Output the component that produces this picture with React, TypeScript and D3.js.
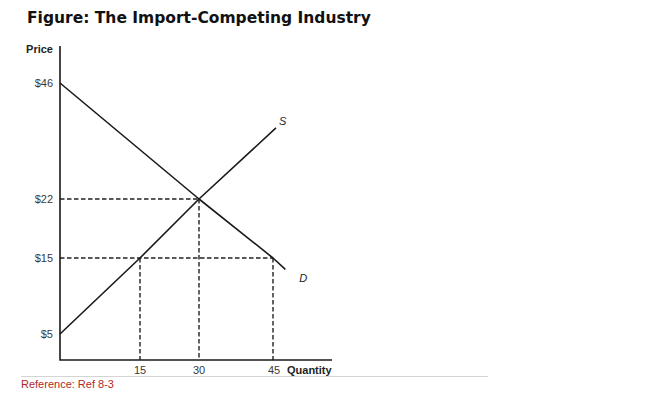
import React from "react";
import * as d3 from "d3";

// Schematic (non-linear) axis anchors
const quantityAnchors = [0, 15, 30, 45];
const priceAnchors = [5, 15, 22, 46];

const xTicks = [15, 30, 45];
const xTickLabels = ["15", "30", "45"];
const yTicks = [46, 22, 15, 5];
const yTickLabels = ["$46", "$22", "$15", "$5"];

// Demand and supply curves (quantity, price)
const demandQ = [0, 30, 45, 47.5];
const demandP = [46, 22, 15, 13.5];
const supplyQ = [0, 15, 30, 45.6];
const supplyP = [5, 15, 22, 36.7];

// Reference (dashed) lines: price levels and quantities
const dashedPrices = [22, 15];
const dashedPriceEndQ = [30, 45];
const dashedQuantities = [15, 30, 45];
const dashedQuantityTopP = [15, 22, 15];

const W = 650;
const H = 394;

export default function App() {
  const x = d3.scaleLinear().domain(quantityAnchors).range([60, 140, 199, 273]);
  const y = d3.scaleLinear().domain(priceAnchors).range([334, 258, 199, 83]);
  const axisLeft = 60;
  const axisBottom = 360;
  const axisTop = 46;
  const axisRight = 332;

  const line = d3
    .line<[number, number]>()
    .x((d) => x(d[0]))
    .y((d) => y(d[1]));

  const demand = demandQ.map((q, i) => [q, demandP[i]] as [number, number]);
  const supply = supplyQ.map((q, i) => [q, supplyP[i]] as [number, number]);

  const textColor = "#3a3a3a";
  const sans = "'Liberation Sans', Arial, Helvetica, sans-serif";

  return (
    <svg
      width={W}
      height={H}
      style={{ position: "absolute", left: 0, top: 0, background: "#fff" }}
    >
      <text
        x={27}
        y={23}
        fontFamily="'DejaVu Sans', Verdana, sans-serif"
        fontWeight="bold"
        fontSize={15.5}
        fill="#111"
      >
        Figure: The Import-Competing Industry
      </text>

      {/* dashed guides */}
      <g stroke="#222" strokeWidth={1.4} strokeDasharray="4.5,2.5" fill="none">
        {dashedPrices.map((p, i) => (
          <line
            key={"h" + i}
            x1={axisLeft}
            x2={x(dashedPriceEndQ[i])}
            y1={y(p)}
            y2={y(p)}
          />
        ))}
        {dashedQuantities.map((q, i) => (
          <line
            key={"v" + i}
            x1={x(q)}
            x2={x(q)}
            y1={y(dashedQuantityTopP[i])}
            y2={axisBottom}
          />
        ))}
      </g>

      {/* curves */}
      <path
        d={line(demand) || ""}
        stroke="#1a1a1a"
        strokeWidth={1.6}
        strokeLinejoin="round"
        fill="none"
      />
      <path
        d={line(supply) || ""}
        stroke="#1a1a1a"
        strokeWidth={1.6}
        strokeLinejoin="round"
        fill="none"
      />

      {/* axes */}
      <path
        d={`M${axisLeft},${axisTop}V${axisBottom}H${axisRight}`}
        stroke="#1a1a1a"
        strokeWidth={1.6}
        fill="none"
      />

      {/* y tick labels */}
      {yTicks.map((p, i) => (
        <text
          key={"yt" + i}
          x={53}
          y={y(p) + 4}
          textAnchor="end"
          fontFamily={sans}
          fontSize={11}
          fill={textColor}
        >
          {yTickLabels[i]}
        </text>
      ))}
      <text
        x={53}
        y={53}
        textAnchor="end"
        fontFamily={sans}
        fontWeight="bold"
        fontSize={11}
        fill="#222"
      >
        Price
      </text>

      {/* x tick labels */}
      {xTicks.map((q, i) => (
        <text
          key={"xt" + i}
          x={x(q) + (i === 2 ? 1 : 0)}
          y={374}
          textAnchor="middle"
          fontFamily={sans}
          fontSize={11}
          fill={textColor}
        >
          {xTickLabels[i]}
        </text>
      ))}
      <text
        x={287}
        y={374}
        fontFamily={sans}
        fontWeight="bold"
        fontSize={11}
        fill="#222"
      >
        Quantity
      </text>

      {/* curve labels */}
      <text
        x={x(supplyQ[supplyQ.length - 1]) + 3}
        y={y(supplyP[supplyP.length - 1]) - 3}
        fontFamily={sans}
        fontStyle="italic"
        fontSize={11}
        fill="#222"
      >
        S
      </text>
      <text
        x={x(demandQ[demandQ.length - 1]) + 14}
        y={y(demandP[demandP.length - 1]) + 13}
        fontFamily={sans}
        fontStyle="italic"
        fontSize={11}
        fill="#222"
      >
        D
      </text>

      {/* footer */}
      <line x1={21} x2={488} y1={376.5} y2={376.5} stroke="#d4d4d4" strokeWidth={1} />
      <text x={21} y={388} fontFamily={sans} fontSize={11} fill="#b0282a">
        Reference: Ref 8-3
      </text>
    </svg>
  );
}
